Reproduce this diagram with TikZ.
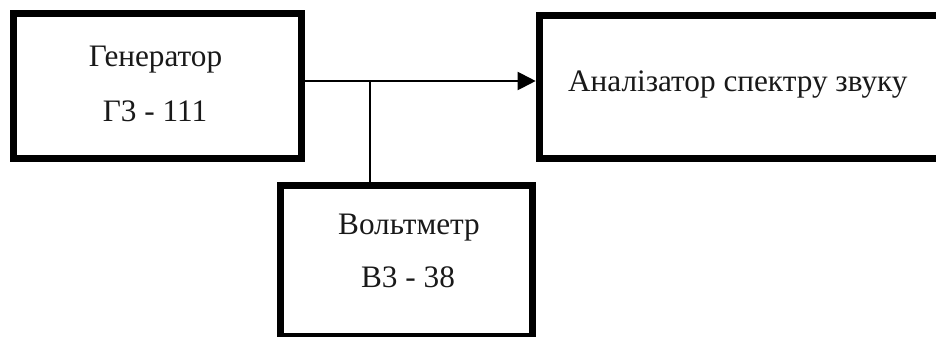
\documentclass[tikz,border=0pt]{standalone}
\usepackage{fontspec}
\setmainfont{Liberation Serif}
\usetikzlibrary{arrows.meta}
\tikzset{
  blockbox/.style={draw=black,line width=5.25pt,fill=white,inner sep=0pt,anchor=north west},
  lbl/.style={font=\fontsize{23.35bp}{28bp}\selectfont,text=black!90,inner sep=0pt,anchor=base},
  wire/.style={draw=black,line width=1.5pt}
}
\begin{document}
\begin{tikzpicture}[x=0.75pt,y=-0.75pt]
\useasboundingbox (0,0) rectangle (936,336);
\node[blockbox,minimum width=216pt,minimum height=108.75pt] (gen) at (10,10) {};
\node[blockbox,minimum width=189pt,minimum height=113.25pt] (volt) at (276.5,181.5) {};
\node[blockbox,minimum width=322.5pt,minimum height=107.25pt] (an) at (535.7,11.7) {};
\node[lbl] (t1) at (155.5,66.5) {Генератор};
\node[lbl] (t2) at (155,121) {Г3 - 111};
\node[lbl] (t3) at (409,234) {Вольтметр};
\node[lbl] (t4) at (408,287) {В3 - 38};
\node[lbl] (t5) at (737.8,91.7) {Аналізатор спектру звуку};
\coordinate (j) at (369.5,81);
\draw[wire,-{Triangle[length=13.5pt,width=13.5pt]}] (gen.east |- j) -- (an.west |- j);
\draw[wire] (j) -- (j |- volt.north);
\end{tikzpicture}
\end{document}
